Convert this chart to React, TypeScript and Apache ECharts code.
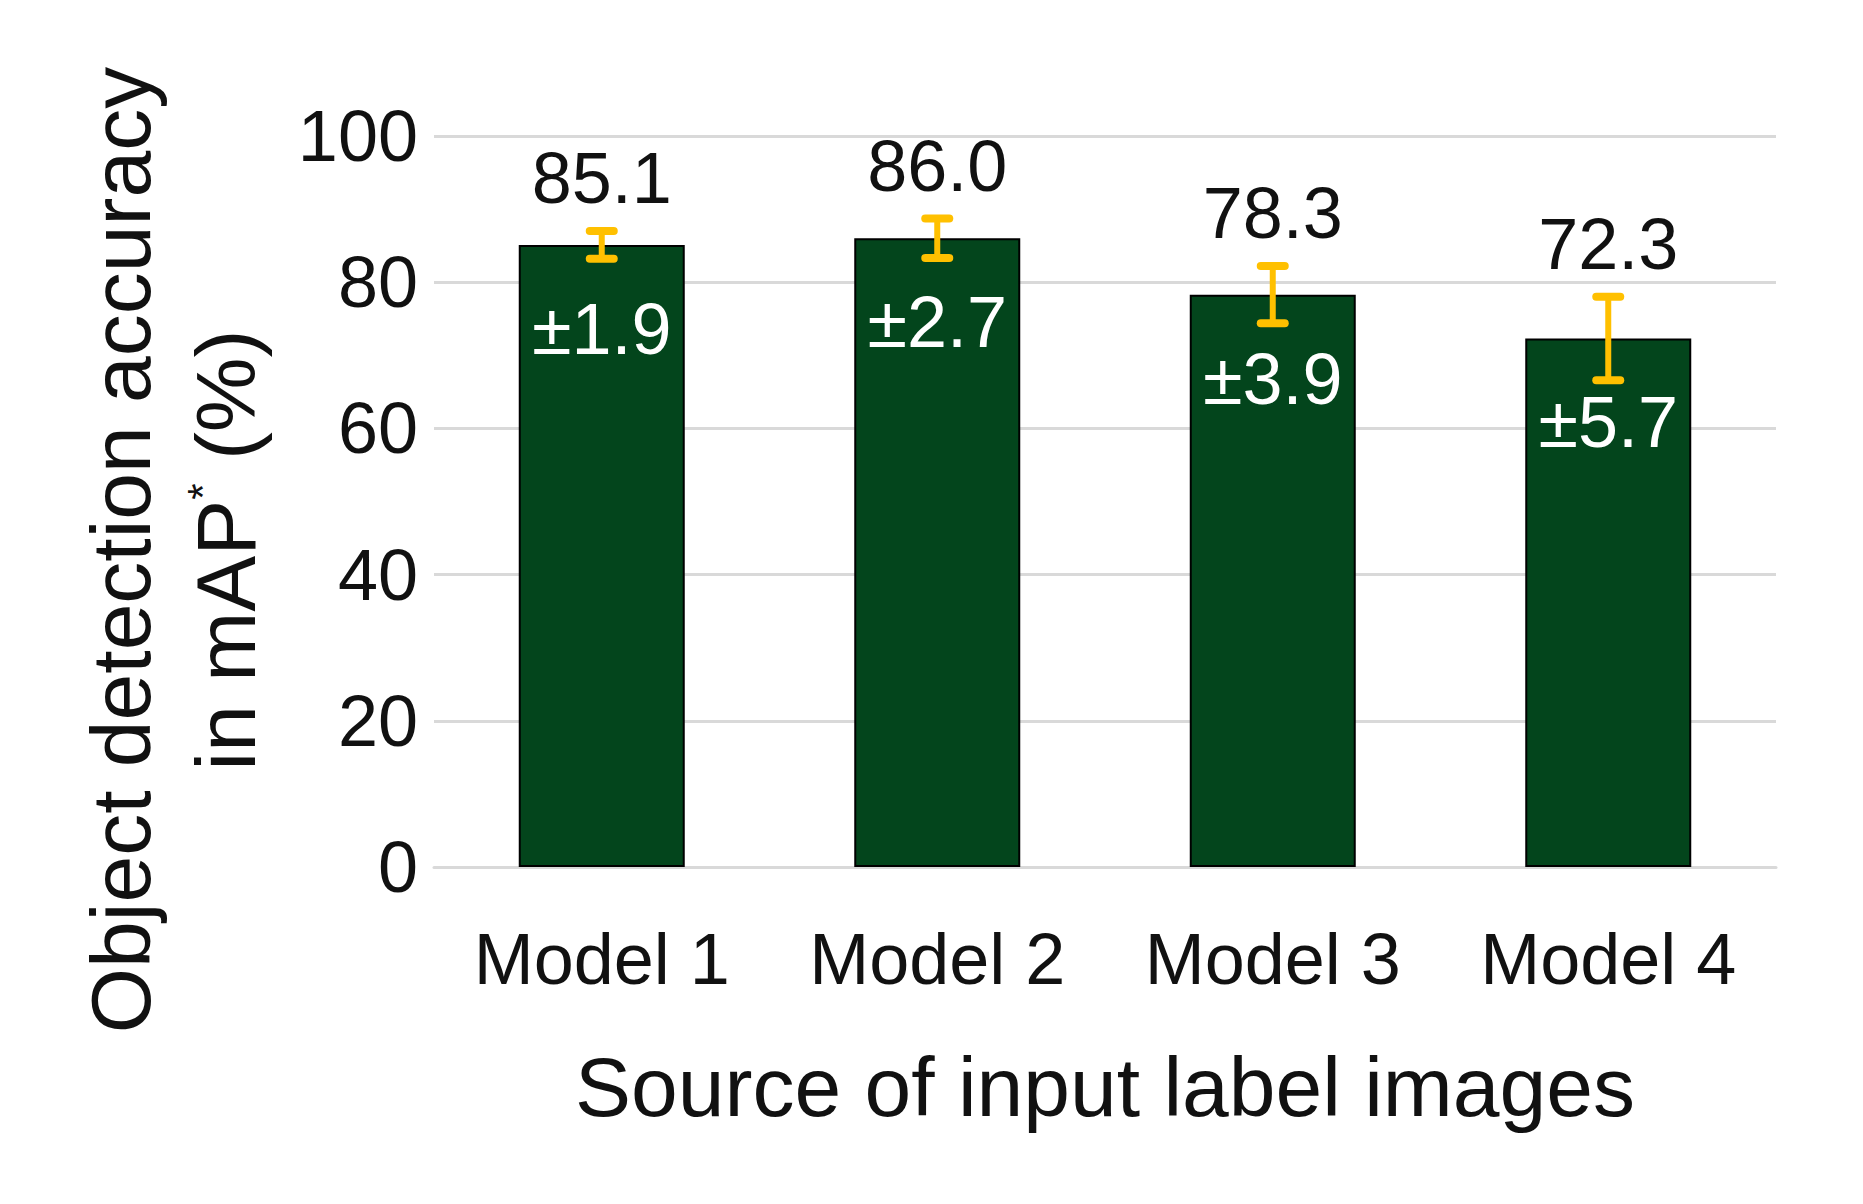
import React, { useEffect, useRef } from "react";
import * as echarts from "echarts";

const categories = ["Model 1", "Model 2", "Model 3", "Model 4"];
const means = [85.1, 86.0, 78.3, 72.3];
const errors = [1.9, 2.7, 3.9, 5.7];
const yMin = 0;
const yMax = 100;
const yInterval = 20;

const FONT = "'Liberation Sans', Arial, sans-serif";

export default function App() {
  const ref = useRef<HTMLDivElement>(null);
  useEffect(() => {
    if (!ref.current) return;
    const chart = echarts.init(ref.current, null, { renderer: "svg" });
    const errData = categories.map((c, i) => [i, means[i], errors[i]]);
    chart.setOption({
      animation: false,
      backgroundColor: "#ffffff",
      textStyle: { fontFamily: FONT },
      grid: { left: 434, right: 87, top: 136, bottom: 337, containLabel: false },
      xAxis: {
        type: "category",
        data: categories,
        axisLine: { show: true, lineStyle: { color: "#d9d9d9", width: 3 } },
        axisTick: { show: false },
        axisLabel: { fontSize: 72, color: "#111", margin: 56, fontFamily: FONT },
        name: "Source of input label images",
        nameLocation: "middle",
        nameGap: 178,
        nameTextStyle: { fontSize: 84, color: "#111", fontFamily: FONT },
      },
      yAxis: {
        type: "value",
        min: yMin,
        max: yMax,
        interval: yInterval,
        axisLine: { show: false },
        axisTick: { show: false },
        axisLabel: { fontSize: 72, color: "#111", margin: 16, fontFamily: FONT },
        splitLine: { show: true, lineStyle: { color: "#d9d9d9", width: 3 } },
      },
      graphic: [
        {
          type: "text",
          x: 173,
          y: 550,
          rotation: Math.PI / 2,
          style: {
            text: "Object detection accuracy\nin mAP{sup|*} (%)",
            fontSize: 84,
            lineHeight: 105,
            fontFamily: FONT,
            fill: "#111",
            align: "center",
            verticalAlign: "middle",
            rich: {
              sup: { fontSize: 42, lineHeight: 105, verticalAlign: "top", fontFamily: FONT, fill: "#111", padding: [8, 0, 0, 0] },
            },
          },
        },
      ],
      series: [
        {
          type: "bar",
          data: means,
          barWidth: 166,
          itemStyle: { color: "#03451C", borderColor: "#000", borderWidth: 2 },
          label: {
            show: true,
            position: "insideTop",
            distance: 48,
            fontSize: 72,
            color: "#ffffff",
            fontFamily: FONT,
            formatter: (p: any) => "±" + errors[p.dataIndex].toFixed(1),
          },
          z: 2,
        },
        {
          type: "custom",
          data: errData,
          encode: { x: 0, y: 1 },
          z: 5,
          renderItem: (params: any, api: any) => {
            const xi = api.value(0);
            const m = api.value(1);
            const e = api.value(2);
            const top = api.coord([xi, m + e]);
            const bot = api.coord([xi, m - e]);
            const half = 12;
            const ls = { stroke: "#FFC000", lineWidth: 6, lineCap: "round" };
            return {
              type: "group",
              children: [
                { type: "line", shape: { x1: top[0], y1: top[1], x2: bot[0], y2: bot[1] }, style: ls },
                { type: "line", shape: { x1: top[0] - half, y1: top[1], x2: top[0] + half, y2: top[1] }, style: { ...ls, lineWidth: 8 } },
                { type: "line", shape: { x1: bot[0] - half, y1: bot[1], x2: bot[0] + half, y2: bot[1] }, style: { ...ls, lineWidth: 8 } },
                {
                  type: "text",
                  x: top[0],
                  y: top[1] - 53,
                  style: {
                    text: m.toFixed(1),
                    fontSize: 72,
                    fontFamily: FONT,
                    fill: "#111",
                    align: "center",
                    verticalAlign: "middle",
                  },
                },
              ],
            };
          },
        },
      ],
    });
    return () => chart.dispose();
  }, []);
  return (
    <div
      ref={ref}
      style={{ position: "fixed", left: 0, top: 0, width: 1863, height: 1204 }}
    />
  );
}
